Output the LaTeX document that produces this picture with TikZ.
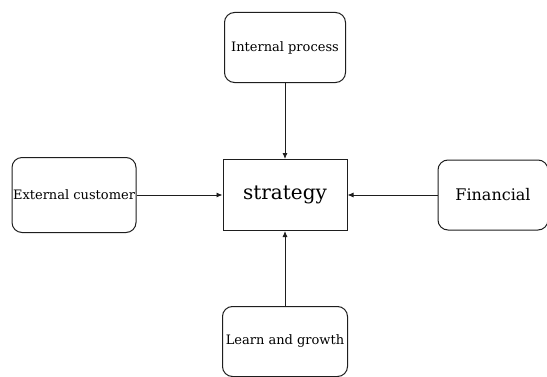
\documentclass[tikz,border=0pt]{standalone}
\usepackage{fontspec}
\setmainfont{DejaVu Serif}
\usetikzlibrary{arrows.meta,positioning}
\definecolor{edge}{HTML}{1E1E1E}
\tikzset{
  pillar/.style={rounded corners=10pt, draw=edge, line width=1pt, fill=white, inner sep=1pt, align=center, minimum height=70pt, font=\fontsize{13}{15}\selectfont},
  core/.style={draw=edge, line width=1pt, fill=white, minimum width=124pt, minimum height=71pt, font=\fontsize{20}{24}\selectfont},
  feed/.style={-{Latex[length=6pt,width=5pt]}, line width=0.9pt, draw=edge},
}

\begin{document}
\begin{tikzpicture}[x=1pt,y=1pt]
  \useasboundingbox (0,0) rectangle (547,376);
  \node[core] (strat) at (285,181) {strategy};
  % four perspectives around the centre
  \node[pillar,minimum width=121pt,above=76pt of strat] (intern) {Internal process};
  \node[pillar,minimum width=121pt,minimum height=75pt,left=86pt of strat] (extern) {External customer};
  \node[pillar,minimum width=110pt,right=90pt of strat,font=\fontsize{16}{18}\selectfont] (fin) {Financial};
  \node[pillar,minimum width=125pt,below=75pt of strat] (learn) {Learn and growth};
  \foreach \src in {intern,extern,fin,learn}{\draw[feed](\src)--(strat);}
\end{tikzpicture}
\end{document}
